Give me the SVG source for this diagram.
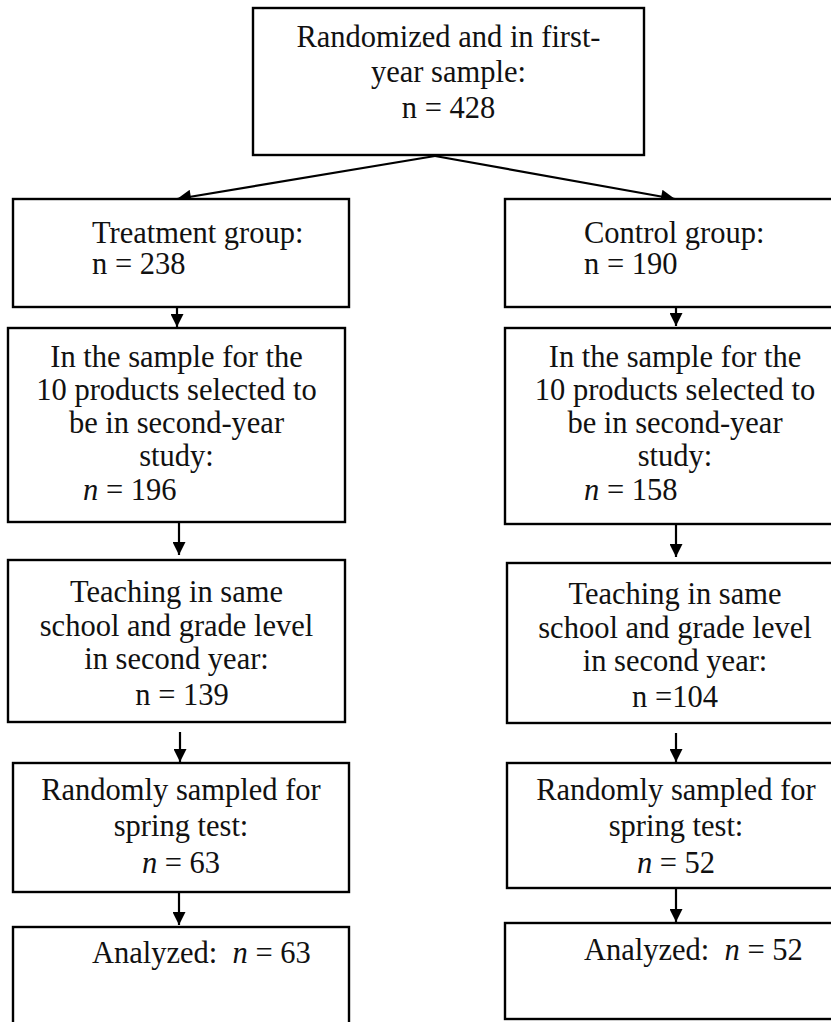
<svg xmlns="http://www.w3.org/2000/svg" width="831" height="1022" viewBox="0 0 831 1022">
<defs>
<style>
.box{fill:#fff;stroke:#000;stroke-width:2.4}
.t{font-family:"Liberation Serif","Times New Roman",serif;font-size:30.5px;fill:#111}
.c{text-anchor:middle}
.i{font-style:italic}
.ln{stroke:#000;stroke-width:2.2;fill:none}
</style>
<marker id="ah" viewBox="0 0 10 10" refX="10" refY="5" markerWidth="14" markerHeight="13" markerUnits="userSpaceOnUse" orient="auto">
<path d="M0,0 L10,5 L0,10 z" fill="#000"/>
</marker>
<marker id="ahd" viewBox="0 0 10 10" refX="10" refY="5" markerWidth="16" markerHeight="14" markerUnits="userSpaceOnUse" orient="auto">
<path d="M0,0 L10,5 L0,10 z" fill="#000"/>
</marker>
</defs>
<rect width="831" height="1022" fill="#fff"/>

<g id="connectors">
<line class="ln" x1="435" y1="156" x2="177" y2="199" marker-end="url(#ahd)"/>
<line class="ln" x1="435" y1="156" x2="675" y2="199" marker-end="url(#ahd)"/>
<line class="ln" x1="177" y1="307" x2="177" y2="327" marker-end="url(#ah)"/>
<line class="ln" x1="179" y1="522" x2="179" y2="555" marker-end="url(#ah)"/>
<line class="ln" x1="180" y1="732" x2="180" y2="762" marker-end="url(#ah)"/>
<line class="ln" x1="179" y1="892" x2="179" y2="925" marker-end="url(#ah)"/>
<line class="ln" x1="676" y1="304" x2="676" y2="326" marker-end="url(#ah)"/>
<line class="ln" x1="676" y1="524" x2="676" y2="557" marker-end="url(#ah)"/>
<line class="ln" x1="676" y1="733" x2="676" y2="762" marker-end="url(#ah)"/>
<line class="ln" x1="676" y1="888" x2="676" y2="922" marker-end="url(#ah)"/>
</g>

<g id="n-top">
<rect class="box" x="253" y="8" width="391" height="147"/>
<text class="t c" x="448.5" y="47">Randomized and in first-</text>
<text class="t c" x="448.5" y="82">year sample:</text>
<text class="t c" x="448.5" y="118">n = 428</text>
</g>

<g id="n-treatment">
<rect class="box" x="13" y="199" width="336" height="108"/>
<text class="t" x="92" y="243">Treatment group:</text>
<text class="t" x="92" y="274">n = 238</text>
</g>

<g id="n-control">
<rect class="box" x="505" y="199" width="340" height="108"/>
<text class="t" x="584" y="243">Control group:</text>
<text class="t" x="584" y="274">n = 190</text>
</g>

<g id="n-t-sample">
<rect class="box" x="8" y="328" width="337" height="194"/>
<text class="t c" x="176.5" y="367">In the sample for the</text>
<text class="t c" x="176.5" y="400">10 products selected to</text>
<text class="t c" x="176.5" y="433">be in second-year</text>
<text class="t c" x="176.5" y="466">study:</text>
<text class="t" x="83" y="500"><tspan class="i">n</tspan> = 196</text>
</g>

<g id="n-c-sample">
<rect class="box" x="505" y="328" width="340" height="196"/>
<text class="t c" x="675" y="367">In the sample for the</text>
<text class="t c" x="675" y="400">10 products selected to</text>
<text class="t c" x="675" y="433">be in second-year</text>
<text class="t c" x="675" y="466">study:</text>
<text class="t" x="584" y="500"><tspan class="i">n</tspan> = 158</text>
</g>

<g id="n-t-teach">
<rect class="box" x="8" y="560" width="337" height="162"/>
<text class="t c" x="176.5" y="602">Teaching in same</text>
<text class="t c" x="176.5" y="636">school and grade level</text>
<text class="t c" x="176.5" y="669">in second year:</text>
<text class="t c" x="182" y="705">n = 139</text>
</g>

<g id="n-c-teach">
<rect class="box" x="507" y="563" width="338" height="160"/>
<text class="t c" x="675" y="604">Teaching in same</text>
<text class="t c" x="675" y="638">school and grade level</text>
<text class="t c" x="675" y="671">in second year:</text>
<text class="t c" x="675" y="707">n =104</text>
</g>

<g id="n-t-random">
<rect class="box" x="13" y="763" width="336" height="129"/>
<text class="t c" x="181" y="800">Randomly sampled for</text>
<text class="t c" x="181" y="836">spring test:</text>
<text class="t c" x="181" y="873"><tspan class="i">n</tspan> = 63</text>
</g>

<g id="n-c-random">
<rect class="box" x="507" y="763" width="338" height="125"/>
<text class="t c" x="676" y="800">Randomly sampled for</text>
<text class="t c" x="676" y="836">spring test:</text>
<text class="t c" x="676" y="873"><tspan class="i">n</tspan> = 52</text>
</g>

<g id="n-t-analyzed">
<rect class="box" x="13" y="927" width="336" height="110"/>
<text class="t" x="92" y="963" xml:space="preserve">Analyzed:  <tspan class="i">n</tspan> = 63</text>
</g>

<g id="n-c-analyzed">
<rect class="box" x="505" y="923" width="340" height="96"/>
<text class="t" x="584" y="960" xml:space="preserve">Analyzed:  <tspan class="i">n</tspan> = 52</text>
</g>
</svg>
